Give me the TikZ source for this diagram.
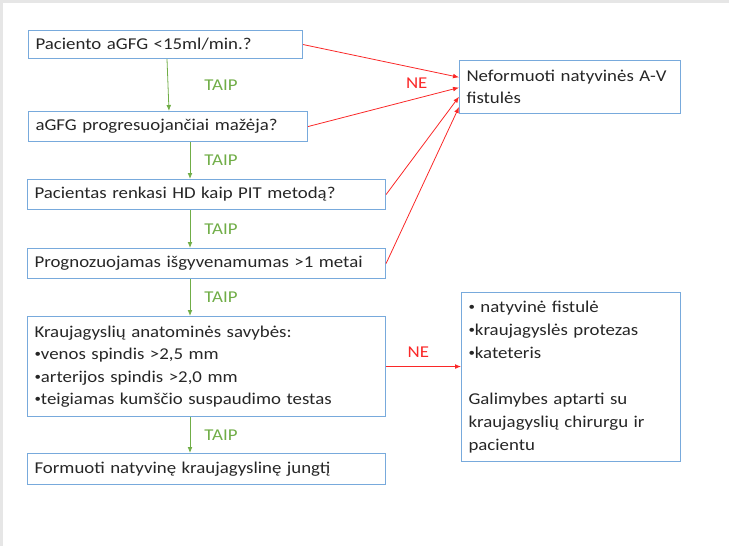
\documentclass[tikz,border=0pt]{standalone}
\usepackage{fontspec}
\setmainfont{Carlito}[FakeStretch=1.14]
\usepackage{tikz}
\usetikzlibrary{arrows.meta,positioning,calc}
\definecolor{boxblue}{RGB}{120,170,220}
\definecolor{yesgreen}{RGB}{112,173,71}
\definecolor{nored}{RGB}{250,40,40}
\definecolor{textgray}{RGB}{38,38,38}
\definecolor{edgegray}{RGB}{230,230,230}
\newcommand{\dotitem}{\raisebox{1.3pt}{\fontsize{8.5}{8.5}\selectfont•}}

\begin{document}
\begin{tikzpicture}[x=0.75pt, y=-0.75pt, >={Latex[length=4.5pt,width=3.6pt]},
    box/.style={draw=boxblue, line width=0.8pt, anchor=north west, align=left,
        inner xsep=5.25pt, inner ysep=0pt, text=textgray,
        font=\fontsize{12.4}{16.9}\selectfont},
    yes/.style={->, yesgreen, line width=0.6pt},
    no/.style={->, nored, line width=0.6pt},
    yeslabel/.style={text=yesgreen, inner sep=0pt, font=\fontsize{12.4}{14}\selectfont},
    nolabel/.style={text=nored, inner sep=0pt, font=\fontsize{12.4}{14}\selectfont}]
    \useasboundingbox (0,0) rectangle (729,546);

    % Page edge
    \fill[edgegray] (0,0) rectangle (729,2.5);
    \fill[edgegray] (0,0) rectangle (2.5,546);

    % Question boxes (left column)
    \node[box, text width=195pt, minimum height=21pt] (q1) at (28,30) {Paciento aGFG <15ml/min.?};
    \node[box, text width=198.75pt, minimum height=22.5pt] (q2) at (28,111) {aGFG progresuojančiai mažėja?};
    \node[box, text width=258pt, minimum height=22.5pt] (q3) at (27,179) {Pacientas renkasi HD kaip PIT metodą?};
    \node[box, text width=258pt, minimum height=22.5pt] (q4) at (27,248) {Prognozuojamas išgyvenamumas >1 metai};
    \node[box, text width=258pt, minimum height=75pt] (q5) at (27,316) {Kraujagyslių anatominės savybės:\\
        \dotitem venos spindis >2,5 mm\\
        \dotitem arterijos spindis >2,0 mm\\
        \dotitem teigiamas kumščio suspaudimo testas};
    \node[box, text width=258pt, minimum height=23.25pt] (q6) at (27,453) {Formuoti natyvinę kraujagyslinę jungtį};

    % Outcome boxes (right column)
    \node[box, text width=155.25pt, minimum height=39.75pt] (ne) at (459,60) {Neformuoti natyvinės A-V\\fistulės};
    \node[box, text width=153.75pt, minimum height=126.75pt,
        font=\fontsize{12.4}{17.25}\selectfont] (alt) at (461,292) {\dotitem{} natyvinė fistulė\\
        \dotitem kraujagyslės protezas\\
        \dotitem kateteris\\[17.25pt]
        Galimybes aptarti su\\
        kraujagyslių chirurgu ir\\
        pacientu};

    % TAIP arrows
    \draw[yes] ($(q1.south west)+(139,0)$) -- ($(q2.north west)+(141,0)$) node[yeslabel, midway, right=27pt] {TAIP};
    \draw[yes] ($(q2.south west)+(162,0)$) -- ($(q3.north west)+(163,0)$) node[yeslabel, midway, right=10.5pt] {TAIP};
    \draw[yes] ($(q3.south west)+(163,0)$) -- ($(q4.north west)+(163,0)$) node[yeslabel, midway, right=10.5pt] {TAIP};
    \draw[yes] ($(q4.south west)+(163,0)$) -- ($(q5.north west)+(163,0)$) node[yeslabel, midway, right=10.5pt] {TAIP};
    \draw[yes] ($(q5.south west)+(163,0)$) -- ($(q6.north west)+(163,0)$) node[yeslabel, midway, right=10.5pt] {TAIP};

    % NE arrows
    \draw[no] (q1.east) -- ($(ne.north west)!0.32!(ne.south west)$);
    \draw[no] (q2.east) -- ($(ne.north west)!0.51!(ne.south west)$) node[nolabel, pos=0.72, above=7.3pt] {NE};
    \draw[no] (q3.east) -- ($(ne.north west)!0.68!(ne.south west)$);
    \draw[no] (q4.east) -- ($(ne.north west)!0.87!(ne.south west)$);
    \draw[no] (q5.east) -- (q5.east -| alt.west) node[nolabel, pos=0.43, above=6.75pt] {NE};
\end{tikzpicture}
\end{document}
